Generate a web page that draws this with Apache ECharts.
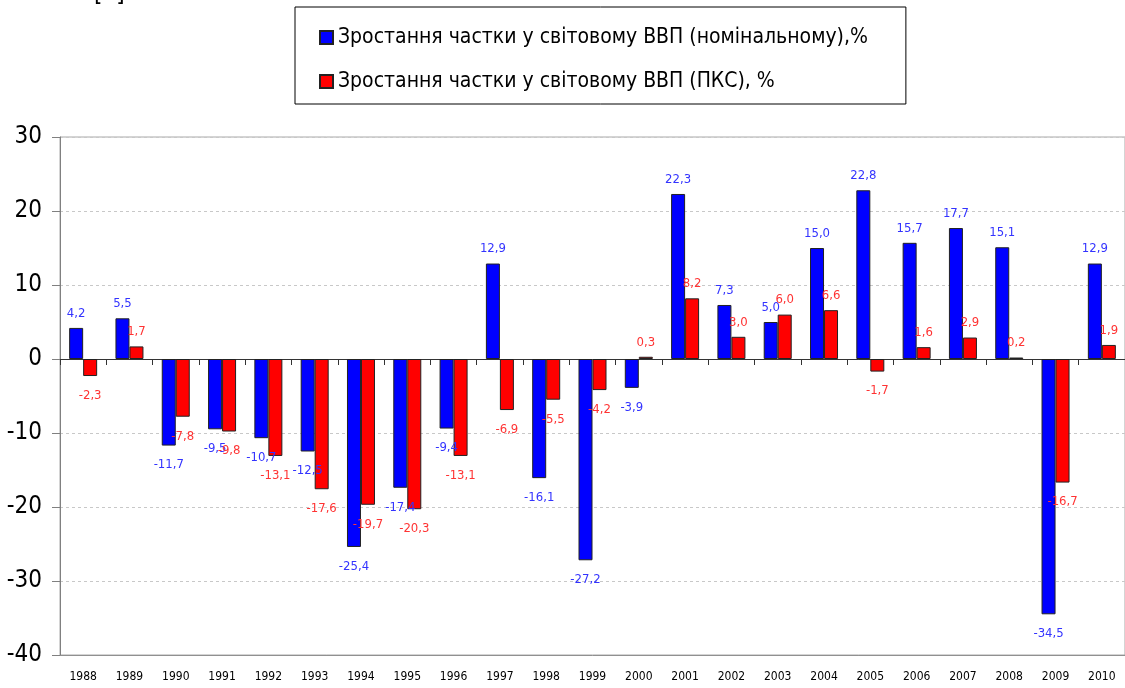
<!DOCTYPE html>
<html>
<head>
<meta charset="utf-8">
<script src="https://cdn.jsdelivr.net/npm/echarts@6/dist/echarts.min.js"></script>
<style>
html,body{margin:0;padding:0;background:#fff;}
#chart{width:1125px;height:688px;}
</style>
</head>
<body>
<div id="chart"></div>
<script>
var years=['1988','1989','1990','1991','1992','1993','1994','1995','1996','1997','1998','1999',
    '2000','2001','2002','2003','2004','2005','2006','2007','2008','2009','2010'];
// частка у світовому ВВП (номінальному), %
var nominal=[4.2,5.5,-11.7,-9.5,-10.7,-12.5,-25.4,-17.4,-9.4,12.9,-16.1,-27.2,
    -3.9,22.3,7.3,5.0,15.0,22.8,15.7,17.7,15.1,-34.5,12.9];
// частка у світовому ВВП (ПКС), %
var ppp=[-2.3,1.7,-7.8,-9.8,-13.1,-17.6,-19.7,-20.3,-13.1,-6.9,-5.5,-4.2,
    0.3,8.2,3.0,6.0,6.6,-1.7,1.6,2.9,0.2,-16.7,1.9];
var seriesNames=['Зростання частки у світовому ВВП (номінальному),%','Зростання частки у світовому ВВП (ПКС), %'];

var FONT="'Liberation Sans Narrow','Arial Narrow','DejaVu Sans Condensed',sans-serif";

function withLabels(arr){
    return arr.map(function(v){
        return {value:v,label:{position:v<0?'bottom':'top',distance:v<0?13:8}};
    });
}
function comma(p){ return p.value.toFixed(1).replace('.',','); }

var chart=echarts.init(document.getElementById('chart'));
chart.setOption({
    animation:false,
    backgroundColor:'#fff',
    textStyle:{fontFamily:FONT},
    graphic:[{type:'text',left:94,top:-17,style:{text:'[  ]',fontSize:24,fontFamily:FONT,fill:'#000'}}],
    legend:{
        orient:'vertical',left:295,top:7,
        padding:[20,38,12,24],itemGap:23,
        itemWidth:13,itemHeight:13,icon:'rect',
        borderColor:'#000',borderWidth:1,backgroundColor:'#fff',
        textStyle:{fontSize:21,fontFamily:FONT,color:'#000'},
        data:seriesNames
    },
    grid:{left:60,right:-2,top:137,bottom:33,show:true,borderColor:'#a8a8a8',borderWidth:1,backgroundColor:'transparent'},
    xAxis:[{
        type:'category',data:years,position:'bottom',
        axisLine:{onZero:false,lineStyle:{color:'#909090'}},
        axisTick:{show:false},
        axisLabel:{fontSize:12,color:'#000',margin:16,fontFamily:FONT},
        splitLine:{show:false}
    },{
        type:'category',data:years,position:'bottom',
        axisLine:{onZero:true,lineStyle:{color:'#333',width:1}},
        axisTick:{show:true,length:6,lineStyle:{color:'#333'}},
        axisLabel:{show:false},
        splitLine:{show:false}
    }],
    yAxis:{
        type:'value',min:-40,max:30,interval:10,
        axisLine:{show:true,lineStyle:{color:'#808080'}},
        axisTick:{show:true,length:8,lineStyle:{color:'#808080'}},
        axisLabel:{fontSize:24,color:'#000',margin:18,fontFamily:FONT},
        splitLine:{lineStyle:{color:'#c8c8c8',type:[3,3]}}
    },
    series:[{
        name:seriesNames[0],type:'bar',data:withLabels(nominal),
        barWidth:14,barGap:'0%',
        itemStyle:{color:'#0000ff',borderColor:'#222',borderWidth:1},
        label:{show:true,fontSize:13,color:'#3333ff',fontFamily:FONT,formatter:comma}
    },{
        name:seriesNames[1],type:'bar',data:withLabels(ppp),
        barWidth:14,barGap:'0%',
        itemStyle:{color:'#ff0000',borderColor:'#222',borderWidth:1},
        label:{show:true,fontSize:13,color:'#ff3333',fontFamily:FONT,formatter:comma}
    }]
});
</script>
</body>
</html>
